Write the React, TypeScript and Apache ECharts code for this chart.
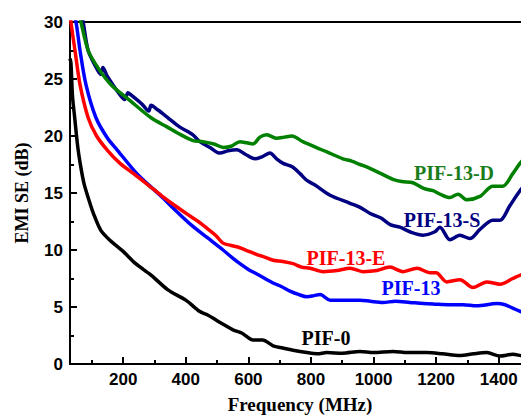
import { useEffect, useRef } from "react";
import * as echarts from "echarts";

// Shielding effectiveness vs. frequency, [MHz, dB]
const pif0: [number, number][] = [
  [30, 26.8], [33, 26.4], [38, 23.5], [45, 21.6], [55, 19.0], [65, 17.2], [75, 15.8],
  [88, 14.6], [105, 13.2], [129, 11.7], [160, 10.8], [199, 9.9], [240, 8.8], [289, 7.8],
  [343, 6.5], [400, 5.6], [445, 4.6], [470, 4.3], [500, 3.8], [525, 3.4], [551, 3.0],
  [580, 2.7], [615, 2.1], [645, 2.1], [679, 1.6], [710, 1.4], [743, 1.2], [787, 1.0],
  [820, 0.9], [851, 1.0], [900, 0.95], [957, 1.1], [1000, 1.0], [1062, 1.1], [1110, 1.0],
  [1171, 1.0], [1220, 0.9], [1276, 0.75], [1320, 0.9], [1362, 1.0], [1404, 0.7],
  [1445, 0.85], [1480, 0.7], [1500, 0.7],
];

const pif13: [number, number][] = [
  [30, 32], [49, 30], [62, 27.5], [81, 24.5], [113, 21.6], [150, 19.8], [183, 18.7],
  [247, 16.6], [318, 14.8], [370, 13.4], [417, 12.2], [468, 11.1], [519, 10.0], [545, 9.4],
  [573, 8.8], [600, 8.3], [627, 7.9], [679, 7.1], [705, 6.8], [733, 6.4], [760, 6.1],
  [787, 5.9], [810, 6.0], [829, 6.1], [861, 5.6], [900, 5.6], [957, 5.6], [990, 5.5],
  [1030, 5.4], [1070, 5.5], [1116, 5.4], [1160, 5.3], [1196, 5.25], [1240, 5.2],
  [1286, 5.2], [1330, 5.1], [1394, 5.3], [1420, 5.2], [1445, 4.9], [1470, 4.6], [1500, 4.4],
];

const pif13E: [number, number][] = [
  [30, 31], [33, 30], [46, 27.5], [62, 24.5], [88, 21.6], [115, 20.0], [151, 18.7],
  [190, 17.6], [238, 16.6], [280, 15.7], [321, 14.8], [365, 13.9], [407, 13.1], [440, 12.5],
  [468, 11.9], [495, 11.3], [519, 10.6], [545, 10.4], [573, 10.2], [600, 9.9], [627, 9.6],
  [650, 9.4], [679, 9.1], [710, 9.0], [743, 8.8], [770, 8.5], [797, 8.4], [839, 8.1],
  [883, 8.2], [925, 8.4], [966, 8.1], [1011, 8.2], [1052, 8.5], [1094, 8.1], [1139, 8.4],
  [1180, 8.0], [1200, 8.0], [1234, 7.2], [1276, 7.4], [1318, 6.7], [1362, 7.2], [1404, 7.0],
  [1445, 7.5], [1470, 7.8], [1500, 8.0],
];

const pif13S: [number, number][] = [
  [30, 36], [72, 30], [88, 27.5], [110, 26.2], [128, 25.4], [135, 26.0], [150, 25.2],
  [190, 23.6], [205, 23.2], [215, 23.8], [225, 23.6], [260, 22.8], [282, 22.2], [289, 22.7],
  [310, 22.3], [343, 21.6], [380, 20.8], [423, 20.1], [445, 19.5], [477, 19.0], [509, 18.5],
  [535, 18.7], [563, 18.8], [590, 18.4], [621, 18.0], [645, 18.2], [669, 18.5], [690, 18.0],
  [711, 17.6], [740, 17.3], [765, 16.7], [787, 16.1], [813, 15.7], [861, 14.8], [925, 14.1],
  [960, 13.7], [989, 13.2], [1024, 12.8], [1055, 12.2], [1084, 12.0], [1116, 11.6],
  [1158, 11.3], [1196, 11.6], [1212, 12.0], [1244, 10.9], [1276, 11.3], [1308, 11.0],
  [1340, 11.8], [1381, 12.6], [1404, 12.6], [1436, 13.9], [1468, 15.2], [1500, 16.2],
];

const pif13D: [number, number][] = [
  [30, 34], [65, 30], [88, 27.5], [119, 26.0], [161, 24.5], [222, 23.1], [289, 21.6],
  [340, 20.8], [385, 20.1], [423, 19.6], [455, 19.5], [490, 19.3], [520, 19.0], [545, 19.1],
  [573, 19.5], [595, 19.4], [615, 19.3], [637, 19.9], [659, 20.1], [691, 19.8], [715, 19.9],
  [739, 20.0], [774, 19.5], [800, 19.2], [825, 18.9], [851, 18.6], [902, 18.0], [930, 17.8],
  [957, 17.5], [985, 17.2], [1024, 16.7], [1062, 16.2], [1090, 16.0], [1126, 15.9],
  [1160, 15.4], [1190, 15.2], [1212, 14.9], [1244, 14.6], [1270, 14.9], [1298, 14.4],
  [1340, 14.7], [1381, 15.6], [1413, 15.6], [1445, 16.7], [1468, 17.6], [1500, 18.6],
];

const majorTicks = [200, 400, 600, 800, 1000, 1200, 1400];
const minorTicks = [100, 300, 500, 700, 900, 1100, 1300, 1500];

const sampleNames = ["PIF-0", "PIF-13", "PIF-13-E", "PIF-13-S", "PIF-13-D"];
const sampleColors = ["#000000", "#0000ff", "#ff0000", "#000080", "#008000"];
const sampleData = [pif0, pif13, pif13E, pif13S, pif13D];

// Curve annotations: [name, x, y, colour] in pixels
const curveLabels: [string, number, number, string][] = [
  ["PIF-13-D", 454, 173, "#1a7d1a"],
  ["PIF-13-S", 442, 220, "#000080"],
  ["PIF-13-E", 346, 258, "#ff0000"],
  ["PIF-13", 411, 288, "#0000ff"],
  ["PIF-0", 326, 338, "#000000"],
];

const SANS = '"Liberation Sans", Arial, sans-serif';
const SERIF = '"Liberation Serif", "Times New Roman", serif';

export default function App() {
  const ref = useRef<HTMLDivElement>(null);

  useEffect(() => {
    const chart = echarts.init(ref.current!, null, { renderer: "svg" });
    const black = { color: "#000", width: 2 };
    const tickLabel = {
      color: "#000",
      fontSize: 17,
      fontWeight: "bold" as const,
      fontFamily: SANS,
      formatter: (v: number) => String(v),
    };
    chart.setOption({
      animation: false,
      backgroundColor: "#fff",
      grid: {
        left: 70,
        top: 22,
        width: 460,
        height: 342,
        outerBoundsMode: "none",
        containLabel: false,
        show: true,
        borderColor: "#000",
        borderWidth: 2,
        backgroundColor: "transparent",
      },
      xAxis: [
        {
          type: "value",
          min: 30,
          max: 1500,
          position: "bottom",
          axisLine: { show: true, lineStyle: black },
          axisTick: { show: true, inside: true, length: 7, lineStyle: black, customValues: majorTicks },
          axisLabel: { ...tickLabel, margin: 7, customValues: majorTicks },
          splitLine: { show: false },
          name: "Frequency (MHz)",
          nameLocation: "middle",
          nameGap: 31,
          nameTextStyle: { color: "#000", fontSize: 19, fontWeight: "bold", fontFamily: SERIF },
        },
        {
          type: "value",
          min: 30,
          max: 1500,
          position: "bottom",
          axisLine: { show: false },
          axisTick: { show: true, inside: true, length: 4, lineStyle: black, customValues: minorTicks },
          axisLabel: { show: false },
          splitLine: { show: false },
        },
      ],
      yAxis: {
        type: "value",
        min: 0,
        max: 30,
        interval: 5,
        axisLine: { show: true, lineStyle: black },
        axisTick: { show: true, inside: true, length: 7, lineStyle: black },
        minorTick: { show: true, splitNumber: 2, length: 4, lineStyle: black },
        axisLabel: { ...tickLabel, margin: 7 },
        splitLine: { show: false },
        name: "EMI SE (dB)",
        nameLocation: "middle",
        nameGap: 39,
        nameTextStyle: { color: "#000", fontSize: 18, fontWeight: "bold", fontFamily: SERIF },
      },
      series: sampleData.map((d, i) => ({
        name: sampleNames[i],
        type: "line",
        data: d,
        xAxisIndex: 0,
        showSymbol: false,
        smooth: 0.3,
        clip: true,
        lineStyle: { color: sampleColors[i], width: 3.5 },
        itemStyle: { color: sampleColors[i] },
      })),
      graphic: curveLabels.map(([text, x, y, color]) => ({
        type: "text",
        x,
        y,
        style: {
          text,
          fill: color,
          fontSize: 20,
          fontWeight: "bold",
          fontFamily: SERIF,
          textAlign: "center",
          textVerticalAlign: "middle",
        },
      })),
    });
    return () => chart.dispose();
  }, []);

  return (
    <div
      ref={ref}
      style={{ position: "fixed", left: 0, top: 0, width: 521, height: 415 }}
    />
  );
}
